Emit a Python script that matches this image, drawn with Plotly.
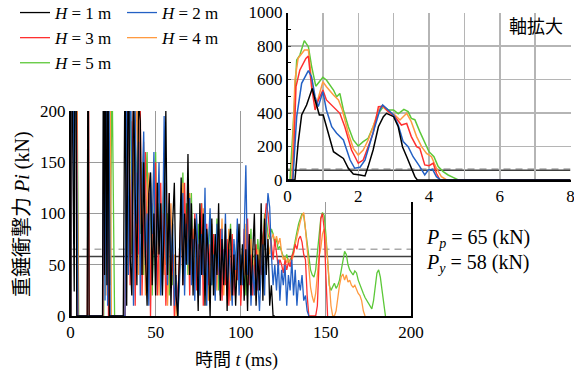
import numpy as np
import plotly.graph_objects as go

W, H = 574, 373
def px(x):
    return x / W
def py(y):
    return 1 - y / H

FONT = "Liberation Serif"
CJK = "Noto Sans CJK JP"
def cjk(s):
    return f'<span style="font-family:{CJK}">{s}</span>'

labels = ["<i>H</i> = 1 m", "<i>H</i> = 2 m", "<i>H</i> = 3 m", "<i>H</i> = 4 m", "<i>H</i> = 5 m"]
colors = ["#000000", "#2360c4", "#ff3030", "#ff9a40", "#5cc838"]

Pp = 65
Py = 58

# ---- inset (first 8 ms) ----
t_in_H1 = [0, 0.21, 0.3, 0.4, 0.54, 0.7, 0.78, 0.9, 1.01, 1.1, 1.2, 1.3, 1.44, 1.58, 1.72, 1.86, 2.05, 2.19, 2.28, 2.42,
           2.57, 2.71, 2.8, 3.0, 3.13, 3.25, 3.37, 3.5, 3.6, 3.67, 8]
p_in_H1 = [0, 0, 219, 388, 448, 547, 478, 388, 388, 318, 239, 169, 149, 129, 70, 36, 30, 24, 80, 179,
           318, 378, 398, 378, 318, 199, 139, 70, 20, 0, 0]
t_in_H2 = [0, 0.15, 0.26, 0.4, 0.59, 0.68, 0.78, 0.87, 1.0, 1.1, 1.25, 1.39, 1.58, 1.77, 1.9, 2.05, 2.19, 2.33, 2.47, 2.61,
           2.69, 2.8, 3.0, 3.13, 3.27, 3.41, 3.55, 3.74, 3.88, 3.98, 4.1, 4.21, 4.33, 8]
p_in_H2 = [0, 0, 378, 577, 653, 617, 497, 438, 527, 418, 318, 279, 239, 119, 70, 76, 119, 219, 308, 418,
           448, 428, 388, 328, 229, 199, 139, 80, 30, 60, 64, 20, 0, 0]
t_in_H3 = [0, 0.15, 0.24, 0.35, 0.52, 0.59, 0.68, 0.78, 0.86, 1.0, 1.1, 1.3, 1.48, 1.62, 1.81, 2.0, 2.14, 2.28, 2.42, 2.57,
           2.71, 2.85, 3.04, 3.22, 3.37, 3.5, 3.65, 3.74, 3.88, 4.0, 4.12, 4.21, 4.31, 8]
p_in_H3 = [0, 0, 557, 657, 726, 740, 557, 418, 470, 537, 478, 438, 398, 318, 179, 100, 119, 199, 279, 438,
           440, 408, 378, 328, 338, 259, 199, 189, 90, 85, 100, 40, 0, 0]
t_in_H4 = [0, 0.12, 0.21, 0.3, 0.48, 0.59, 0.68, 0.8, 1.0, 1.1, 1.3, 1.44, 1.55, 1.72, 1.86, 2.0, 2.14, 2.28, 2.42, 2.57,
           2.66, 2.85, 3.04, 3.18, 3.37, 3.5, 3.65, 3.79, 3.93, 4.07, 4.21, 4.35, 4.5, 8]
p_in_H4 = [0, 0, 597, 726, 776, 776, 597, 438, 587, 557, 507, 478, 418, 279, 189, 149, 179, 239, 318, 418,
           442, 408, 388, 358, 398, 348, 259, 199, 159, 139, 70, 20, 0, 0]
t_in_H5 = [0, 0.07, 0.16, 0.26, 0.35, 0.475, 0.59, 0.68, 0.8, 1.0, 1.1, 1.3, 1.39, 1.48, 1.58, 1.72, 1.86, 2.0, 2.14, 2.28,
           2.42, 2.57, 2.71, 2.85, 3.0, 3.13, 3.29, 3.41, 3.5, 3.6, 3.74, 3.88, 4.0, 4.14, 4.26, 4.4, 4.54, 4.68, 4.83, 8]
p_in_H5 = [0, 0, 318, 716, 746, 832, 796, 680, 560, 613, 597, 537, 497, 517, 418, 318, 239, 203, 229, 249,
           318, 398, 438, 418, 418, 395, 422, 408, 368, 360, 289, 219, 169, 139, 80, 50, 30, 16, 0, 0]

# ---- main: early rebound spikes (ms, kN) ----
t_early_H1 = [9.8, 10.3, 10.9, 18.8, 19.4, 20.0, 20.6, 21.4, 22.0, 22.8, 27.5]
p_early_H1 = [0, 320, 0, 0, 300, 40, 280, 30, 260, 0, 0]
t_early_H2 = [18.9, 19.6, 20.3, 21.0, 21.8, 22.6, 23.3]
p_early_H2 = [0, 260, 15, 300, 10, 240, 0]
t_early_H3 = [9.9, 10.5, 11.0, 19.0, 19.8, 20.6, 21.5, 22.3]
p_early_H3 = [0, 300, 0, 0, 280, 60, 260, 0]
t_early_H4 = [19.2, 20.0, 20.8, 21.6, 22.6, 23.3, 24.0]
p_early_H4 = [0, 240, 20, 270, 20, 230, 0]
t_early_H5 = [19.5, 20.3, 21.2, 22.2, 23.2, 24.4, 25.9]
p_early_H5 = [0, 230, 40, 250, 30, 240, 0]

# ---- main: 1 ms samples from 28 ms ----
t_dense_start = 28
p_dense_H1 = [0, 0, 0, 0, 250, 10, 280, 60, 20, 230,
              120, 30, 210, 190, 40, 150, 60, 10, 120, 140,
              30, 100, 20, 130, 60, 110, 20, 90, 200, 40,
              120, 10, 90, 130, 20, 0, 60, 135, 30, 100,
              50, 158, 40, 110, 20, 95, 70, 5, 110, 40,
              100, 10, 85, 60, 0, 95, 20, 80, 40, 110,
              15, 75, 30, 90, 5, 70, 85, 20, 60, 10,
              55, 90, 30, 70, 15, 65, 5, 80, 20, 55,
              100, 10, 60, 25, 110, 15, 95, 40, 75, 10,
              30, 0, 0]
p_dense_H2 = [0, 0, 0, 0, 0, 220, 40, 260, 130, 10,
              200, 90, 170, 20, 120, 180, 50, 100, 10, 140,
              80, 160, 30, 90, 150, 20, 60, 195, 70, 30,
              110, 50, 90, 10, 40, 0, 30, 80, 120, 20,
              90, 50, 115, 30, 75, 15, 100, 60, 20, 80,
              40, 125, 10, 70, 105, 30, 60, 15, 90, 50,
              20, 85, 35, 100, 20, 65, 40, 10, 75, 45,
              95, 20, 60, 30, 80, 147, 40, 70, 10, 50,
              20, 60, 35, 5, 45, 70, 20, 90, 120, 106,
              60, 30, 50, 25, 55, 15, 45, 30, 50, 10,
              40, 25, 55, 20, 45, 10, 35, 25, 40, 15,
              20, 5, 0]
p_dense_H3 = [0, 0, 0, 0, 0, 180, 260, 30, 150, 210,
              10, 140, 60, 200, 20, 90, 160, 30, 120, 0,
              110, 60, 150, 20, 80, 130, 40, 100, 10, 70,
              120, 30, 60, 0, 40, 10, 70, 110, 30, 130,
              60, 110, 20, 90, 50, 100, 25, 70, 40, 110,
              10, 60, 90, 30, 70, 45, 80, 20, 60, 40,
              85, 15, 65, 30, 75, 10, 55, 80, 20, 60,
              35, 70, 10, 50, 85, 40, 95, 30, 60, 20,
              45, 70, 25, 55, 40, 75, 90, 110, 100, 80,
              70, 55, 75, 60, 48, 55, 50, 42, 55, 45,
              52, 48, 58, 62, 70, 65, 75, 78, 72, 60,
              55, 20, 0, 0, 0, 0, 0, 10, 60, 95,
              100, 85, 40, 0]
p_dense_H4 = [0, 0, 0, 0, 0, 120, 240, 50, 190, 20,
              160, 230, 40, 130, 70, 170, 20, 110, 140, 30,
              90, 150, 50, 120, 20, 80, 100, 40, 130, 10,
              70, 110, 40, 60, 0, 20, 50, 90, 130, 40,
              100, 70, 120, 50, 85, 30, 95, 60, 20, 75,
              105, 40, 70, 15, 60, 90, 35, 70, 25, 80,
              50, 95, 20, 60, 40, 85, 15, 55, 70, 30,
              80, 45, 20, 65, 40, 90, 25, 60, 75, 35,
              55, 15, 65, 40, 80, 60, 95, 85, 70, 60,
              75, 80, 72, 78, 70, 76, 62, 55, 58, 52,
              56, 50, 54, 60, 70, 78, 85, 92, 98, 101,
              85, 66, 40, 28, 19, 13, 22, 40, 58, 66,
              80, 85, 75, 55, 30, 10, 0, 0, 5, 20,
              30, 38, 41, 35, 40, 33, 35, 30, 28, 30,
              25, 22, 20, 15, 5, 0]
p_dense_H5 = [0, 0, 0, 0, 0, 90, 200, 250, 60, 180,
              30, 150, 190, 80, 150, 40, 120, 160, 50, 130,
              20, 100, 160, 60, 110, 30, 90, 140, 50, 100,
              20, 80, 30, 50, 10, 0, 40, 70, 140, 60,
              110, 40, 90, 120, 45, 80, 30, 90, 65, 110,
              50, 20, 80, 55, 100, 30, 70, 45, 95, 25,
              65, 80, 40, 70, 20, 60, 90, 35, 70, 50,
              85, 30, 60, 40, 75, 20, 65, 50, 85, 30,
              60, 45, 75, 55, 85, 70, 100, 95, 80, 75,
              85, 80, 70, 75, 65, 68, 62, 58, 55, 60,
              52, 55, 58, 65, 75, 82, 90, 95, 100, 98,
              85, 70, 55, 45, 40, 38, 45, 60, 80, 95,
              101, 98, 80, 50, 30, 25, 28, 32, 27, 30,
              35, 45, 55, 63, 60, 50, 45, 42, 40, 44,
              42, 35, 30, 27, 22, 18, 15, 12, 9, 7,
              15, 30, 42, 45, 38, 25, 10, 0]

t_in = [t_in_H1, t_in_H2, t_in_H3, t_in_H4, t_in_H5]
p_in = [p_in_H1, p_in_H2, p_in_H3, p_in_H4, p_in_H5]
t_early = [t_early_H1, t_early_H2, t_early_H3, t_early_H4, t_early_H5]
p_early = [p_early_H1, p_early_H2, p_early_H3, p_early_H4, p_early_H5]
p_dense = [p_dense_H1, p_dense_H2, p_dense_H3, p_dense_H4, p_dense_H5]

main_ticks = [0, 50, 100, 150, 200]
inset_xticks = [0, 1, 2, 3, 4, 5, 6, 7, 8]
inset_xtext = ["0", " ", "2", " ", "4", " ", "6", " ", "8"]
inset_yticks = [0, 200, 400, 600, 800, 1000]

fig = go.Figure()
order = [4, 3, 2, 1, 0]
for i in order:
    t_d = list(t_dense_start + np.arange(len(p_dense[i])))
    tx = t_in[i][:-1] + t_early[i] + t_d
    pyv = p_in[i][:-1] + p_early[i] + p_dense[i]
    fig.add_trace(go.Scatter(
        x=tx, y=pyv, mode="lines", name=labels[i],
        line=dict(color=colors[i], width=1.3),
        legend="legend" if i % 2 == 0 else "legend2",
        legendgroup=f"g{i}", legendrank=i + 1, xaxis="x", yaxis="y"))

# cover panels (white background behind the inset)
fig.add_trace(go.Scatter(x=[None], y=[None], xaxis="x2", yaxis="y2", showlegend=False, hoverinfo="skip"))
fig.add_trace(go.Scatter(x=[None], y=[None], xaxis="x3", yaxis="y3", showlegend=False, hoverinfo="skip"))

for i in order:
    fig.add_trace(go.Scatter(
        x=t_in[i], y=p_in[i], mode="lines", showlegend=False,
        line=dict(color=colors[i], width=1.5), xaxis="x4", yaxis="y4"))

tickfont = dict(family=FONT, size=17, color="black")
legfont = dict(family=FONT, size=17, color="black")
fig.update_layout(
    template="none",
    width=W, height=H, margin=dict(l=0, r=0, t=0, b=0, autoexpand=False),
    paper_bgcolor="white", plot_bgcolor="white",
    font=dict(family=FONT, size=17, color="black"),
    showlegend=True,
    xaxis=dict(domain=[px(70.5), px(411)], range=[0, 200], tickvals=main_ticks,
               showgrid=True, gridcolor="#9a9a9a", gridwidth=1, showline=True,
               linecolor="black", linewidth=1.5, ticks="", zeroline=False,
               anchor="y", tickfont=tickfont, automargin=False),
    yaxis=dict(domain=[py(316), py(111)], range=[0, 200], tickvals=main_ticks,
               showgrid=True, gridcolor="#9a9a9a", gridwidth=1, showline=True,
               linecolor="black", linewidth=1.5, mirror=True, ticks="", zeroline=False,
               anchor="x", tickfont=tickfont, automargin=False),
    xaxis2=dict(domain=[px(243), 1], visible=False, anchor="y2", range=[0, 1]),
    yaxis2=dict(domain=[py(164), 1], visible=False, anchor="x2", range=[0, 1]),
    xaxis3=dict(domain=[px(280), 1], visible=False, anchor="y3", range=[0, 1]),
    yaxis3=dict(domain=[py(202), 1], visible=False, anchor="x3", range=[0, 1]),
    xaxis4=dict(domain=[px(287.5), px(570.5)], range=[0, 8], tickvals=inset_xticks,
                ticktext=inset_xtext, showgrid=True, gridcolor="#b5b5b5", gridwidth=1.5,
                showline=True, linecolor="black", linewidth=1.5, ticks="", zeroline=False,
                anchor="y4", tickfont=tickfont, automargin=False, ticklabeloverflow="allow"),
    yaxis4=dict(domain=[py(180), py(12.5)], range=[0, 1000], tickvals=inset_yticks,
                showgrid=True, gridcolor="#b5b5b5", gridwidth=1.5,
                showline=True, linecolor="black", linewidth=1.5, ticks="inside", ticklen=3,
                minor=dict(ticks="inside", ticklen=3, dtick=100, tickcolor="black"),
                zeroline=False, anchor="x4", tickfont=tickfont, automargin=False,
                ticklabeloverflow="allow"),
    legend=dict(x=px(15), y=py(-5), xanchor="left", yanchor="top", bgcolor="rgba(0,0,0,0)",
                font=legfont, itemwidth=30, tracegroupgap=0),
    legend2=dict(x=px(122), y=py(-5), xanchor="left", yanchor="top", bgcolor="rgba(0,0,0,0)",
                 font=legfont, itemwidth=30, tracegroupgap=0),
)

# reference lines Pp (dashed) and Py (solid)
for xr, yr, x1 in (("x", "y", 200), ("x4", "y4", 8)):
    fig.add_shape(type="line", xref=xr, yref=yr, x0=0, x1=x1, y0=Pp, y1=Pp, layer="below",
                  line=dict(color="#aaaaaa", width=1.5, dash="7px,5px"))
    fig.add_shape(type="line", xref=xr, yref=yr, x0=0, x1=x1, y0=Py, y1=Py, layer="below",
                  line=dict(color="#404040", width=1.5))

ann = [
    dict(x=px(424), y=py(238), xanchor="left", yanchor="middle",
         text=f"<i>P</i><sub><i>p</i></sub> = {Pp} (kN)", font=dict(family=FONT, size=20)),
    dict(x=px(424), y=py(263), xanchor="left", yanchor="middle",
         text=f"<i>P</i><sub><i>y</i></sub> = {Py} (kN)", font=dict(family=FONT, size=20)),
    dict(x=px(565), y=py(25), xanchor="right", yanchor="middle",
         text="軸拡大", font=dict(family=CJK, size=18)),
    dict(x=px(236), y=py(358), xanchor="center", yanchor="middle",
         text=cjk("時間") + " <i>t</i> (ms)", font=dict(family=FONT, size=18)),
    dict(x=px(20), y=py(214), xanchor="center", yanchor="middle", textangle=-90,
         text=cjk("重錘衝撃力") + " <i>Pi</i> (kN)", font=dict(family=FONT, size=20)),
]
for a in ann:
    fig.add_annotation(xref="paper", yref="paper", showarrow=False, **a)

fig.write_html("out.html", config={"displayModeBar": False, "staticPlot": True},
               post_script="document.body.style.margin='0px';")
